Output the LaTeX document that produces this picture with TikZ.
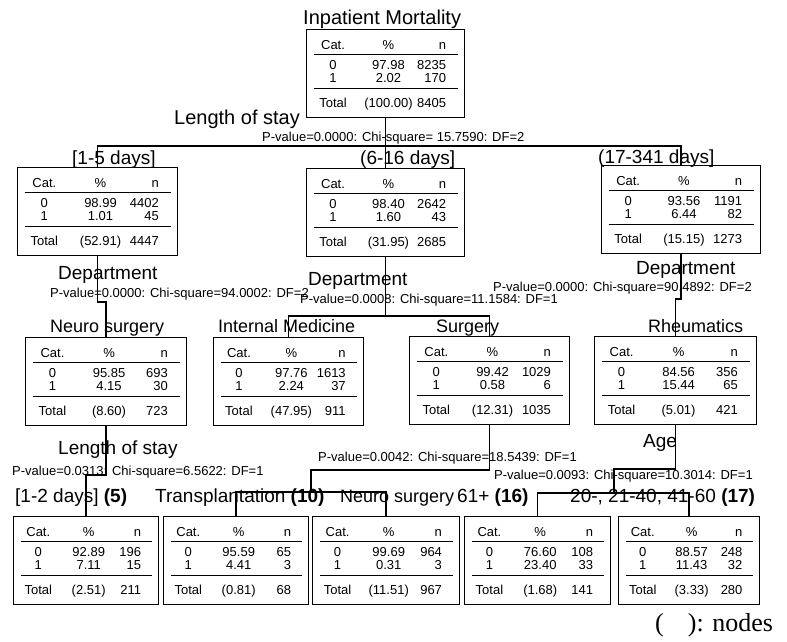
\documentclass[tikz,border=0pt]{standalone}
\usepackage{fontspec}
\setmainfont{Liberation Sans}
\newfontfamily\serifnodes{Liberation Serif}
\usepackage{array}
\newlength\wi
\newcommand\ctab[7]{%
\setlength\wi{\dimexpr #1pt-14pt\relax}%
\renewcommand\arraystretch{0}%
\setlength\tabcolsep{0pt}%
\setlength\arrayrulewidth{1.3pt}%
\begin{tabular}{@{}w{c}{0.27\wi}w{c}{0.50\wi}w{r}{0.15\wi}@{\hspace{0.08\wi}}}
\rule[-4pt]{0pt}{20pt}Cat. & \% & n\hspace{7pt}\\\hline
\rule[-3pt]{0pt}{17.7pt}0 & #2 & #3\\
\rule[-5.3pt]{0pt}{15.3pt}1 & #4 & #5\\\hline
\rule[-6pt]{0pt}{24.4pt}Total & (#6) & #7\\
\end{tabular}}
\begin{document}
\begin{tikzpicture}[x=1pt,y=-1pt,
 tbox/.style={draw,line width=1.2pt,inner sep=0pt,anchor=north west,minimum height=88pt,font=\fontsize{13}{15}\selectfont},
 conn/.style={line width=1.6pt},
 lab/.style={anchor=base west,inner sep=0pt,font=\fontsize{19}{22}\selectfont},
 pval/.style={anchor=base west,inner sep=0pt,font=\fontsize{13}{15}\selectfont}]
\useasboundingbox (0,0) rectangle (787,641);
% boxes
\node[tbox,minimum width=158pt] (root) at (306,29) {\ctab{158}{97.98}{8235}{2.02}{170}{100.00}{8405}};
\node[tbox,minimum width=160pt] (c1) at (17,167) {\ctab{160}{98.99}{4402}{1.01}{45}{52.91}{4447}};
\node[tbox,minimum width=158pt] (c2) at (306,168) {\ctab{158}{98.40}{2642}{1.60}{43}{31.95}{2685}};
\node[tbox,minimum width=159pt] (c3) at (601,165) {\ctab{159}{93.56}{1191}{6.44}{82}{15.15}{1273}};
\node[tbox,minimum width=161pt] (d1) at (25,337) {\ctab{161}{95.85}{693}{4.15}{30}{8.60}{723}};
\node[tbox,minimum width=150pt] (d2) at (213,337) {\ctab{150}{97.76}{1613}{2.24}{37}{47.95}{911}};
\node[tbox,minimum width=160pt] (d3) at (409,336) {\ctab{160}{99.42}{1029}{0.58}{6}{12.31}{1035}};
\node[tbox,minimum width=162pt] (d4) at (594,336) {\ctab{162}{84.56}{356}{15.44}{65}{5.01}{421}};
\node[tbox,minimum width=145pt] (e1) at (13,516) {\ctab{145}{92.89}{196}{7.11}{15}{2.51}{211}};
\node[tbox,minimum width=145pt] (e2) at (163,516) {\ctab{145}{95.59}{65}{4.41}{3}{0.81}{68}};
\node[tbox,minimum width=147pt] (e3) at (312,516) {\ctab{147}{99.69}{964}{0.31}{3}{11.51}{967}};
\node[tbox,minimum width=146pt] (e4) at (464,516) {\ctab{146}{76.60}{108}{23.40}{33}{1.68}{141}};
\node[tbox,minimum width=141pt] (e5) at (618,516) {\ctab{141}{88.57}{248}{11.43}{32}{3.33}{280}};
% connectors
\draw[conn] (root.south) -- ++(0,28) -| (c1.north);
\draw[conn] (root.south) -- (c2.north);
\draw[conn] (root.south) -- ++(0,28) -| (c3.north);
\draw[conn] (c1.south) -- ++(0,46) -| (d1.north);
\draw[conn] (c2.south) -- ++(0,59) -| (d2.north);
\draw[conn] (c2.south) -- ++(0,59) -| (d3.north);
\draw[conn] (c3.south) -- ++(0,45) -| (d4.north);
\draw[conn] (d1.south) -- ++(0,49) -| (e1.north);
\coordinate (j3) at (311,492);
\draw[conn] (d3.south) -- ++(0,45) -| (j3);
\draw[conn] (e2.north) -- ++(0,-24) -| (e3.north);
\coordinate (j4) at (614,493);
\draw[conn] (d4.south) -- ++(0,44) -| (j4);
\draw[conn] (e4.north) -- ++(0,-23) -| (e5.north);
% titles and labels
\node[lab,font=\fontsize{20}{24}\selectfont] (title) at (303,24) {Inpatient Mortality};
\node[lab,font=\fontsize{20}{24}\selectfont] (s0) at (174,124) {Length of stay};
\node[pval] (p0) at (262,141) {P-value=0.0000: Chi-square= 15.7590: DF=2};
\node[lab] (l1) at (72,164) {[1-5 days]};
\node[lab] (l2) at (360,164) {(6-16 days]};
\node[lab] (l3) at (598,163) {(17-341 days]};
\node[lab] (s1) at (58,279) {Department};
\node[pval] (p1) at (50,297) {P-value=0.0000: Chi-square=94.0002: DF=2};
\node[lab] (s2) at (308,285) {Department};
\node[pval] (p2) at (300,303) {P-value=0.0008: Chi-square=11.1584: DF=1};
\node[lab] (s3) at (636,274) {Department};
\node[pval] (p3) at (493,291) {P-value=0.0000: Chi-square=90.4892: DF=2};
\node[lab,font=\fontsize{18}{22}\selectfont] (m1) at (50,332) {Neuro surgery};
\node[lab,font=\fontsize{18}{22}\selectfont] (m2) at (218,332) {Internal Medicine};
\node[lab,font=\fontsize{18}{22}\selectfont] (m3) at (436,332) {Surgery};
\node[lab,font=\fontsize{18}{22}\selectfont] (m4) at (648,332) {Rheumatics};
\node[lab] (s4) at (58,454) {Length of stay};
\node[pval] (p4) at (12,475) {P-value=0.0313: Chi-square=6.5622: DF=1};
\node[pval] (p5) at (318,461) {P-value=0.0042: Chi-square=18.5439: DF=1};
\node[lab] (s6) at (643,447) {Age};
\node[pval] (p6) at (494,479) {P-value=0.0093: Chi-square=10.3014: DF=1};
\node[lab] (t1) at (15,502) {[1-2 days] \textbf{(5)}};
\node[lab] (t2) at (155,502) {Transplantation \textbf{(10)}};
\node[lab,font=\fontsize{18}{22}\selectfont] (t3) at (340,502) {Neuro surgery};
\node[lab] (t4) at (457,502) {61+ \textbf{(16)}};
\node[lab] (t5) at (570,502) {20-, 21-40, 41-60 \textbf{(17)}};
\node[anchor=base west,inner sep=0pt,font=\serifnodes\fontsize{26}{30}\selectfont] (key) at (655,631) {(\hspace{24pt}): nodes};
\end{tikzpicture}
\end{document}
